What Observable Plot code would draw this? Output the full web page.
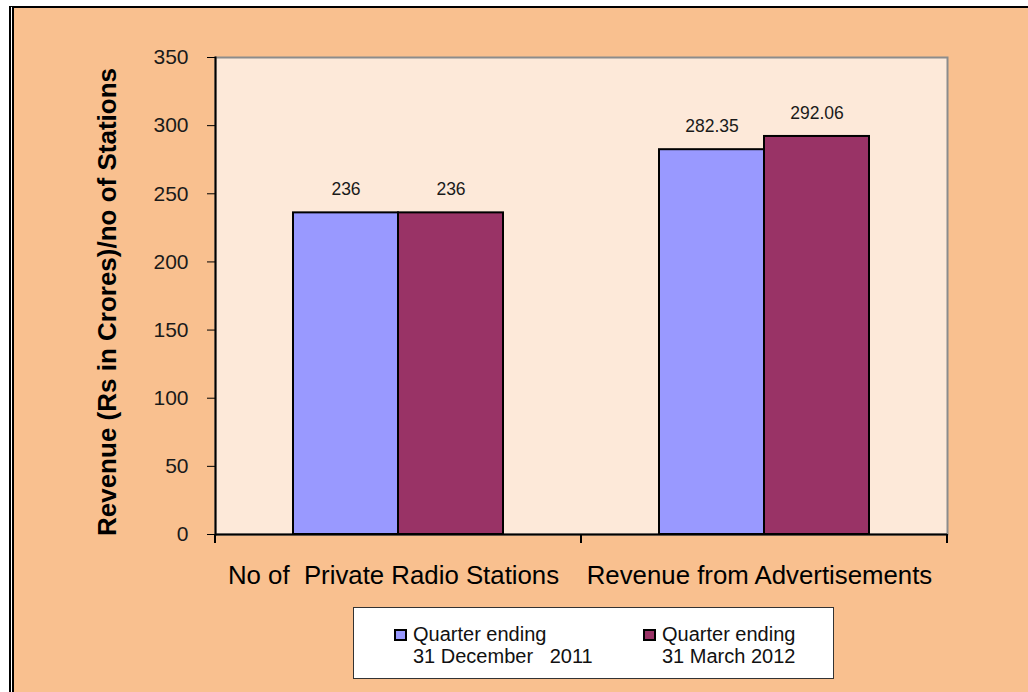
<!DOCTYPE html>
<html>
<head>
<meta charset="utf-8">
<script src="https://cdn.jsdelivr.net/npm/d3@7"></script>
<script src="https://cdn.jsdelivr.net/npm/@observablehq/plot@0.6"></script>
<style>
  html, body { margin: 0; padding: 0; background: #fff; width: 1028px; height: 692px; overflow: hidden; font-family: "Liberation Sans", Arial, sans-serif; }
  #bg { position: absolute; left: 9px; top: 6px; right: 0; bottom: 0; background: #f9c08f; background-clip: padding-box; border-top: 2px solid #000; border-left: 5px double #000; }
  #chart { position: absolute; left: 0; top: 0; }
  #chart svg text { white-space: pre; }
  #legend { position: absolute; left: 353px; top: 607px; width: 479px; height: 70px; background: #fff; border: 1.5px solid #333; font-size: 20px; line-height: 22px; color: #111; }
  #legend .sw { position: absolute; width: 9px; height: 8px; border: 2px solid #000; top: 21px; }
  #legend .tx { position: absolute; top: 15px; white-space: pre; }
</style>
</head>
<body>
<div id="bg"></div>
<div id="chart"></div>
<div id="legend"></div>
<script>
// ---- data ----
const categories = ["No of  Private Radio Stations", "Revenue from Advertisements"];
const seriesNames = ["Quarter ending 31 December 2011", "Quarter ending 31 March 2012"];
const legendLines = [["Quarter ending", "31 December   2011"], ["Quarter ending", "31 March 2012"]];
const valuesDec2011 = [236, 282.35];
const valuesMar2012 = [236, 292.06];
const yTicks = [0, 50, 100, 150, 200, 250, 300, 350];
const yLabel = "Revenue (Rs in Crores)/no of Stations";
const seriesColors = ["#9999ff", "#993366"];

const rowsDec = categories.map((c, i) => ({category: c, series: seriesNames[0], value: valuesDec2011[i]}));
const rowsMar = categories.map((c, i) => ({category: c, series: seriesNames[1], value: valuesMar2012[i]}));

const font = "'Liberation Sans', Arial, sans-serif";

const chart = Plot.plot({
  width: 1028,
  height: 692,
  marginLeft: 215,
  marginRight: 81,
  marginTop: 57,
  marginBottom: 158,
  style: {background: "transparent", fontFamily: font, overflow: "visible"},
  x: {domain: categories, padding: 0, axis: null},
  y: {domain: [0, 350], axis: null},
  color: {domain: seriesNames, range: seriesColors},
  marks: [
    Plot.frame({fill: "#fde9d9", stroke: "#8c8c8c", strokeWidth: 2}),
    Plot.barY(rowsDec, {x: "category", y: "value", fill: "series", stroke: "#000", strokeWidth: 2, insetLeft: 78, insetRight: 183}),
    Plot.barY(rowsMar, {x: "category", y: "value", fill: "series", stroke: "#000", strokeWidth: 2, insetLeft: 183, insetRight: 78}),
    Plot.text(rowsDec, {x: "category", y: "value", text: d => String(d.value), dx: -52.5, dy: -23, fontSize: 17.5, fill: "#1a1a1a"}),
    Plot.text(rowsMar, {x: "category", y: "value", text: d => String(d.value), dx: 52.5, dy: -23, fontSize: 17.5, fill: "#1a1a1a"}),
    Plot.ruleY([0], {stroke: "#000", strokeWidth: 2}),
    Plot.frame({anchor: "left", stroke: "#000", strokeWidth: 2}),
    Plot.axisY({ticks: yTicks, tickSize: 8, tickPadding: 19, fontSize: 21, stroke: "#000", fill: "#1a1a1a", label: null, tickFormat: d => String(d)}),
    Plot.axisX({tickSize: 0, tickPadding: 31, fontSize: 25.8, dx: -5, fill: "#000", label: null}),
    Plot.text([yLabel], {frameAnchor: "left", textAnchor: "middle", dx: -108, dy: 6, rotate: -90, fontSize: 26, fontWeight: "bold", fill: "#000"})
  ]
});
document.getElementById("chart").appendChild(chart);

// category boundary ticks (Excel style), derived from the x and y scales
const xs = chart.scale("x");
const ys = chart.scale("y");
const band = d3.scaleBand().domain(xs.domain).range(xs.range).padding(0);
const boundaries = xs.domain.map(c => band(c)).concat([band(xs.domain[xs.domain.length - 1]) + band.bandwidth()]);
const y0 = ys.apply(0);
d3.select(chart).append("g").attr("stroke", "#000").attr("stroke-width", 2)
  .selectAll("line").data(boundaries).join("line")
  .attr("x1", d => d).attr("x2", d => d).attr("y1", y0).attr("y2", y0 + 9);

// legend
const legend = d3.select("#legend");
const swLeft = [40, 289];
const txLeft = [59, 308];
seriesNames.forEach((s, i) => {
  legend.append("div").attr("class", "sw").style("left", swLeft[i] + "px").style("background", seriesColors[i]);
  legend.append("div").attr("class", "tx").style("left", txLeft[i] + "px").text(legendLines[i].join("\n"));
});
</script>
</body>
</html>
